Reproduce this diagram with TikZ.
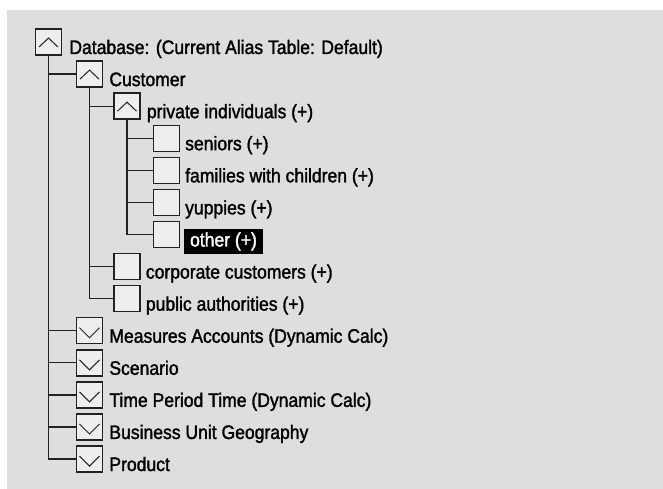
\documentclass[tikz,border=0pt]{standalone}
\usepackage{fontspec}
\setmainfont{Liberation Sans}[FakeStretch=0.9, FakeBold=1.6]
\usetikzlibrary{positioning}
\definecolor{panel}{HTML}{DEDEDE}
\definecolor{boxfill}{HTML}{EEEEEE}
\definecolor{boxline}{HTML}{222222}

\tikzset{
  tbox/.style={draw=boxline, fill=boxfill, line width=1.4pt, minimum size=26pt, inner sep=0pt},
  openbox/.style={tbox, path picture={\draw[boxline, line width=1pt]
      ([shift={(-9.5pt,-5pt)}]path picture bounding box.center) -- ++(9.5pt,9pt) -- ++(9.5pt,-9pt);}},
  shutbox/.style={tbox, path picture={\draw[boxline, line width=1pt]
      ([shift={(-10pt,3pt)}]path picture bounding box.center) -- ++(10pt,-10pt) -- ++(10pt,10pt);}},
  lbl/.style={anchor=base west, inner sep=0pt, text=black, font=\fontsize{19.5}{22}\selectfont},
  hilite/.style={lbl, fill=black, text=white, inner xsep=6.5pt, inner ysep=3.5pt},
  tree/.style={boxline, line width=1.3pt}
}

\begin{document}
\begin{tikzpicture}[x=1pt, y=1pt]
  \useasboundingbox (0,0) rectangle (663,-489);
  \fill[panel] (7,-10) rectangle (663,-489);

  % boxes
  \path
  (48.5,-42) node[openbox] (db) {}
  (89.5,-74.08) node[openbox] (cust) {}
  (127,-106.16) node[openbox] (priv) {}
  (166.3,-138.24) node[tbox] (sen) {}
  (166.3,-170.32) node[tbox] (fam) {}
  (166.3,-202.4) node[tbox] (yup) {}
  (166.3,-234.48) node[tbox] (oth) {}
  (127,-266.56) node[tbox] (corp) {}
  (127,-298.64) node[tbox] (pub) {}
  (89.5,-330.72) node[shutbox] (meas) {}
  (89.5,-362.8) node[shutbox] (scen) {}
  (89.5,-394.88) node[shutbox] (time) {}
  (89.5,-426.96) node[shutbox] (bus) {}
  (89.5,-459.04) node[shutbox] (prod) {};

  % labels
  \node[lbl] (db-t) at ([xshift=7pt,yshift=1.7pt]db.south east) {Database: (Current Alias Table: Default)};
  \node[lbl] (cust-t) at ([xshift=6pt,yshift=1.7pt]cust.south east) {Customer};
  \node[lbl] (priv-t) at ([xshift=6pt,yshift=1.7pt]priv.south east) {private individuals (+)};
  \node[lbl] (sen-t) at ([xshift=5pt,yshift=1.7pt]sen.south east) {seniors (+)};
  \node[lbl] (fam-t) at ([xshift=5pt,yshift=1.7pt]fam.south east) {families with children (+)};
  \node[lbl] (yup-t) at ([xshift=5pt,yshift=1.7pt]yup.south east) {yuppies (+)};
  \node[hilite] (oth-t) at ([xshift=3.4pt,yshift=1.7pt]oth.south east) {other (+)};
  \node[lbl] (corp-t) at ([xshift=5pt,yshift=1.7pt]corp.south east) {corporate customers (+)};
  \node[lbl] (pub-t) at ([xshift=5pt,yshift=1.7pt]pub.south east) {public authorities (+)};
  \node[lbl] (meas-t) at ([xshift=6pt,yshift=1.7pt]meas.south east) {Measures Accounts (Dynamic Calc)};
  \node[lbl] (scen-t) at ([xshift=6pt,yshift=1.7pt]scen.south east) {Scenario};
  \node[lbl] (time-t) at ([xshift=6pt,yshift=1.7pt]time.south east) {Time Period Time (Dynamic Calc)};
  \node[lbl] (bus-t) at ([xshift=6pt,yshift=1.7pt]bus.south east) {Business Unit Geography};
  \node[lbl] (prod-t) at ([xshift=6pt,yshift=1.7pt]prod.south east) {Product};

  % tree lines
  \draw[tree]
  (db.south) |- (prod.west)
  (db |- cust) -- (cust.west)
  (db |- meas) -- (meas.west)
  (db |- scen) -- (scen.west)
  (db |- time) -- (time.west)
  (db |- bus) -- (bus.west)
  (cust.south) |- (pub.west)
  (cust |- priv) -- (priv.west)
  (cust |- corp) -- (corp.west)
  (priv.south) |- (oth.west)
  (priv |- sen) -- (sen.west)
  (priv |- fam) -- (fam.west)
  (priv |- yup) -- (yup.west);
\end{tikzpicture}
\end{document}
